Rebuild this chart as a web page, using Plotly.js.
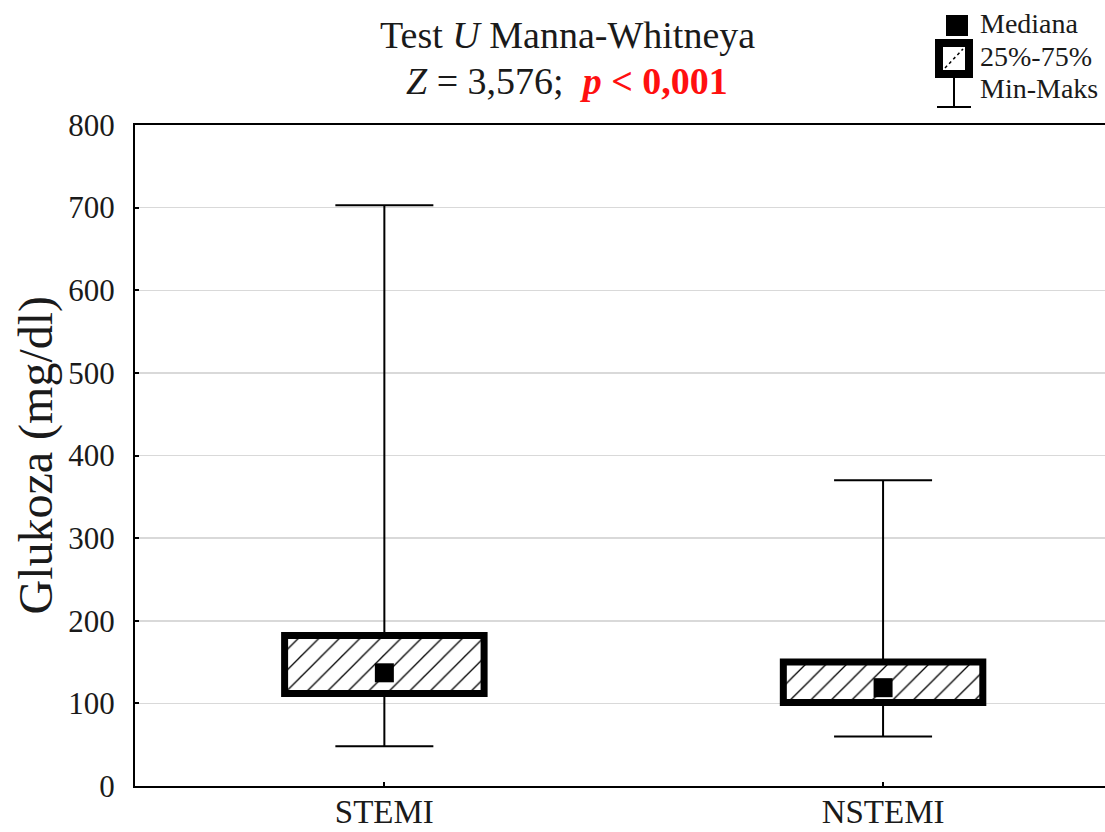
<!DOCTYPE html>
<html>
<head>
<meta charset="utf-8">
<script src="https://cdn.plot.ly/plotly-3.0.1.min.js"></script>
<style>html,body{margin:0;padding:0;background:#fff;}#chart{width:1105px;height:832px;}</style>
</head>
<body>
<div id="chart"></div>
<script>
// ---- data ----
var categories = ['STEMI', 'NSTEMI'];
var minVals    = [48, 60];
var q1Vals     = [112, 101];
var medianVals = [137, 119];
var q3Vals     = [182, 150];
var maxVals    = [703, 370];
var yTickVals  = [0, 100, 200, 300, 400, 500, 600, 700, 800];
var legendLabels = ['Mediana', '25%-75%', 'Min-Maks'];

// ---- layout geometry (pixels) ----
var W = 1105, H = 832;
var mL = 135, mR = 0, mT = 125, mB = 46;
var plotW = W - mL - mR, plotH = H - mT - mB;
function px(X) { return (X - mL) / plotW; }
function py(Y) { return (H - mB - Y) / plotH; }

var serif = 'Liberation Serif, Times New Roman, serif';

var boxTrace = {
  type: 'bar',
  x: categories,
  base: q1Vals,
  y: q3Vals.map(function (v, i) { return v - q1Vals[i]; }),
  width: 0.4,
  marker: {
    color: 'white',
    line: { color: 'black', width: 7 },
    pattern: { shape: '/', size: 14.5, solidity: 0.09, fgcolor: 'black', bgcolor: 'white' }
  },
  showlegend: false,
  hoverinfo: 'skip'
};

var upperWhisker = {
  type: 'scatter', mode: 'markers',
  x: categories, y: q3Vals,
  marker: { size: 1, color: 'rgba(0,0,0,0)' },
  error_y: {
    type: 'data', symmetric: false,
    array: maxVals.map(function (v, i) { return v - q3Vals[i]; }),
    arrayminus: q3Vals.map(function () { return 0; }),
    width: 49, thickness: 2, color: 'black'
  },
  showlegend: false, hoverinfo: 'skip'
};

var lowerWhisker = {
  type: 'scatter', mode: 'markers',
  x: categories, y: q1Vals,
  marker: { size: 1, color: 'rgba(0,0,0,0)' },
  error_y: {
    type: 'data', symmetric: false,
    array: q1Vals.map(function () { return 0; }),
    arrayminus: q1Vals.map(function (v, i) { return v - minVals[i]; }),
    width: 49, thickness: 2, color: 'black'
  },
  showlegend: false, hoverinfo: 'skip'
};

var medianTrace = {
  type: 'scatter', mode: 'markers',
  x: categories, y: medianVals,
  marker: { symbol: 'square', size: 19, color: 'black', line: { width: 0 } },
  showlegend: false, hoverinfo: 'skip'
};

var layout = {
  width: W, height: H,
  margin: { l: mL, r: mR, t: mT, b: mB, pad: 0 },
  paper_bgcolor: 'white', plot_bgcolor: 'white',
  showlegend: false, hovermode: false,
  font: { family: serif, color: '#1a1a1a' },
  xaxis: {
    type: 'category',
    range: [-0.5, 1.445],
    showline: true, linecolor: 'black', linewidth: 2, mirror: true,
    ticks: 'inside', ticklen: 4, tickcolor: 'black', tickwidth: 2,
    showgrid: false, zeroline: false,
    tickfont: { family: serif, size: 33, color: '#1a1a1a' },
    ticklabelstandoff: -5
  },
  yaxis: {
    range: [0, 800],
    tickvals: yTickVals,
    showline: true, linecolor: 'black', linewidth: 2,
    ticks: 'inside', ticklen: 4, tickcolor: 'black', tickwidth: 2,
    showgrid: true, gridcolor: '#d9d9d9', gridwidth: 1.5,
    zeroline: false,
    tickfont: { family: serif, size: 31, color: '#1a1a1a' },
    ticklabelstandoff: 12
  },
  annotations: [
    { xref: 'paper', yref: 'paper', x: px(567), y: py(35), xanchor: 'center', yanchor: 'middle',
      text: 'Test <i>U</i> Manna-Whitneya', showarrow: false,
      font: { family: serif, size: 38, color: '#1a1a1a' } },
    { xref: 'paper', yref: 'paper', x: px(567), y: py(81), xanchor: 'center', yanchor: 'middle',
      text: '<i>Z</i> = 3,576;&nbsp; <span style="color:#ff1010"><b><i>p</i> &lt; 0,001</b></span>', showarrow: false,
      font: { family: serif, size: 38, color: '#1a1a1a' } },
    { xref: 'paper', yref: 'paper', x: px(35.5), y: py(455), xanchor: 'center', yanchor: 'middle',
      text: 'Glukoza (mg/dl)', textangle: -90, showarrow: false,
      font: { family: serif, size: 48, color: '#1a1a1a' } },
    { xref: 'paper', yref: 'paper', x: px(978), y: py(23), xanchor: 'left', yanchor: 'middle',
      text: legendLabels[0], showarrow: false, font: { family: serif, size: 28, color: '#1a1a1a' } },
    { xref: 'paper', yref: 'paper', x: px(978), y: py(56), xanchor: 'left', yanchor: 'middle',
      text: legendLabels[1], showarrow: false, font: { family: serif, size: 28, color: '#1a1a1a' } },
    { xref: 'paper', yref: 'paper', x: px(978), y: py(89), xanchor: 'left', yanchor: 'middle',
      text: legendLabels[2], showarrow: false, font: { family: serif, size: 28, color: '#1a1a1a' } }
  ],
  shapes: [
    // legend: median square
    { type: 'rect', xref: 'paper', yref: 'paper', x0: px(946), x1: px(968), y0: py(15), y1: py(36),
      fillcolor: 'black', line: { width: 0 } },
    // legend: box
    { type: 'rect', xref: 'paper', yref: 'paper', x0: px(939), x1: px(969), y0: py(43), y1: py(74),
      fillcolor: 'white', line: { color: 'black', width: 8 } },
    { type: 'line', xref: 'paper', yref: 'paper', x0: px(945), x1: px(963), y0: py(68), y1: py(49),
      line: { color: 'black', width: 1.5, dash: 'dot' } },
    // legend: whisker
    { type: 'line', xref: 'paper', yref: 'paper', x0: px(954), x1: px(954), y0: py(78), y1: py(107),
      line: { color: 'black', width: 2 } },
    { type: 'line', xref: 'paper', yref: 'paper', x0: px(937), x1: px(971), y0: py(107), y1: py(107),
      line: { color: 'black', width: 2 } }
  ]
};

Plotly.newPlot('chart', [boxTrace, upperWhisker, lowerWhisker, medianTrace], layout, { staticPlot: true, displayModeBar: false });
</script>
</body>
</html>
